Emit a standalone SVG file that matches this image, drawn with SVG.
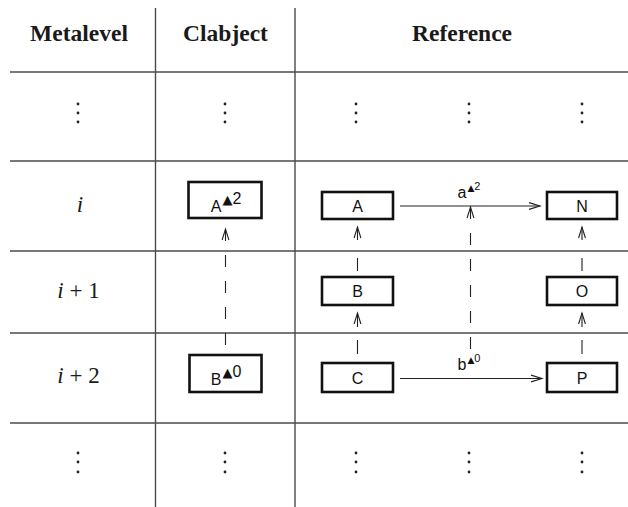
<svg xmlns="http://www.w3.org/2000/svg" width="628" height="507" viewBox="0 0 628 507">
<style>
.grid{stroke:#4a4a4a;stroke-width:1.4;fill:none}
.hdr{font-family:"Liberation Serif",serif;font-weight:bold;font-size:23.5px;fill:#1a1a1a;text-anchor:middle}
.lvl{font-family:"Liberation Serif",serif;font-size:23px;fill:#1a1a1a;text-anchor:middle}
.box{fill:#fff;stroke:#111;stroke-width:2.6}
.lbl{font-family:"Liberation Sans","DejaVu Sans",sans-serif;font-size:16px;fill:#111;text-anchor:middle}
.sup{font-family:"DejaVu Sans","Liberation Sans",sans-serif}
.dots{fill:#222}
.solid{stroke:#222;stroke-width:1.1;fill:none}
.dash{stroke:#222;stroke-width:1.1;fill:none;stroke-dasharray:12 14}
</style>
<defs>
<marker id="open" markerUnits="userSpaceOnUse" markerWidth="20" markerHeight="12" refX="0" refY="0" viewBox="-12 -6 14 12" orient="auto-start-reverse" overflow="visible">
<path d="M-11,-3.4 L0,0 L-11,3.4" fill="none" stroke="#222" stroke-width="1.1"/>
</marker>
</defs>

<g id="table">
<line class="grid" x1="10" y1="72" x2="628" y2="72"/>
<line class="grid" x1="10" y1="161" x2="628" y2="161"/>
<line class="grid" x1="10" y1="251" x2="628" y2="251"/>
<line class="grid" x1="10" y1="333" x2="628" y2="333"/>
<line class="grid" x1="10" y1="423" x2="628" y2="423"/>
<line class="grid" x1="155.5" y1="8" x2="155.5" y2="507"/>
<line class="grid" x1="295" y1="8" x2="295" y2="507"/>
<text class="hdr" x="79" y="41">Metalevel</text>
<text class="hdr" x="225.5" y="41">Clabject</text>
<text class="hdr" x="462" y="41">Reference</text>
<text class="lvl" x="80" y="212" font-style="italic">i</text>
<text class="lvl" x="78.5" y="298"><tspan font-style="italic">i</tspan> + 1</text>
<text class="lvl" x="78.5" y="383"><tspan font-style="italic">i</tspan> + 2</text>
</g>

<g id="dots" class="dots">
<circle cx="78" cy="104" r="1.4"/><circle cx="78" cy="113" r="1.4"/><circle cx="78" cy="122" r="1.4"/>
<circle cx="225" cy="104" r="1.4"/><circle cx="225" cy="113" r="1.4"/><circle cx="225" cy="122" r="1.4"/>
<circle cx="356" cy="104" r="1.4"/><circle cx="356" cy="113" r="1.4"/><circle cx="356" cy="122" r="1.4"/>
<circle cx="469" cy="104" r="1.4"/><circle cx="469" cy="113" r="1.4"/><circle cx="469" cy="122" r="1.4"/>
<circle cx="582" cy="104" r="1.4"/><circle cx="582" cy="113" r="1.4"/><circle cx="582" cy="122" r="1.4"/>
<circle cx="78" cy="453" r="1.4"/><circle cx="78" cy="462" r="1.4"/><circle cx="78" cy="472" r="1.4"/>
<circle cx="225" cy="453" r="1.4"/><circle cx="225" cy="462" r="1.4"/><circle cx="225" cy="472" r="1.4"/>
<circle cx="356" cy="453" r="1.4"/><circle cx="356" cy="462" r="1.4"/><circle cx="356" cy="472" r="1.4"/>
<circle cx="469" cy="453" r="1.4"/><circle cx="469" cy="462" r="1.4"/><circle cx="469" cy="472" r="1.4"/>
<circle cx="582" cy="453" r="1.4"/><circle cx="582" cy="462" r="1.4"/><circle cx="582" cy="472" r="1.4"/>
</g>

<g id="connectors">
<path class="dash" d="M225.5,229 L225.5,355" marker-start="url(#open)"/>
<path class="dash" d="M357.5,227 L357.5,277" marker-start="url(#open)" style="stroke-dasharray:13 18"/>
<path class="dash" d="M357.5,313 L357.5,363" marker-start="url(#open)" style="stroke-dasharray:14 13"/>
<path class="dash" d="M582,227 L582,277" marker-start="url(#open)" style="stroke-dasharray:13 18"/>
<path class="dash" d="M582,313 L582,363" marker-start="url(#open)" style="stroke-dasharray:14 13"/>
<path class="dash" d="M470.5,207 L470.5,349" marker-start="url(#open)"/>
<path class="solid" d="M400,206 L540,206" marker-end="url(#open)"/>
<path class="solid" d="M400,378.5 L542,378.5" marker-end="url(#open)"/>
<text class="lbl" x="469" y="198">a<tspan class="sup" font-size="9" dx="1" dy="-7">▲</tspan><tspan font-size="11" dy="-1">2</tspan></text>
<text class="lbl" x="469" y="370">b<tspan class="sup" font-size="9" dx="1" dy="-7">▲</tspan><tspan font-size="11" dy="-1">0</tspan></text>
</g>

<g id="clabject-A">
<rect class="box" x="188.5" y="182" width="73" height="36"/>
<text class="lbl" x="226" y="212">A<tspan class="sup" font-size="13" dx="1" dy="-8">▲</tspan><tspan font-size="16">2</tspan></text>
</g>
<g id="clabject-B">
<rect class="box" x="189.5" y="355" width="72" height="37"/>
<text class="lbl" x="226" y="385">B<tspan class="sup" font-size="13" dx="1" dy="-8">▲</tspan><tspan font-size="16">0</tspan></text>
</g>
<g id="A"><rect class="box" x="322" y="192" width="71" height="27"/><text class="lbl" x="357.5" y="211.5">A</text></g>
<g id="B"><rect class="box" x="322" y="277" width="71" height="28"/><text class="lbl" x="357.5" y="297">B</text></g>
<g id="C"><rect class="box" x="322" y="363" width="71" height="29"/><text class="lbl" x="357.5" y="383.5">C</text></g>
<g id="N"><rect class="box" x="547" y="192" width="70" height="27"/><text class="lbl" x="582" y="211.5">N</text></g>
<g id="O"><rect class="box" x="547" y="277" width="70" height="28"/><text class="lbl" x="582" y="297">O</text></g>
<g id="P"><rect class="box" x="547" y="363" width="70" height="29"/><text class="lbl" x="582" y="383.5">P</text></g>
</svg>
